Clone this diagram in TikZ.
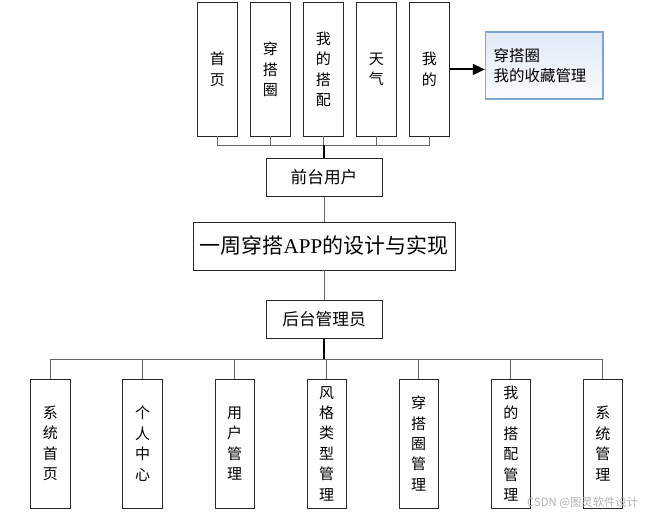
\documentclass[tikz,border=0pt]{standalone}
\usepackage{fontspec}
\setmainfont{Noto Sans CJK SC}
\newfontfamily\latinserif{Liberation Serif}
\usepackage{tikz}
\usetikzlibrary{positioning,arrows.meta}
\definecolor{favline}{RGB}{126,166,211}
\definecolor{favtop}{RGB}{224,233,246}
\definecolor{favbot}{RGB}{250,252,255}
\tikzset{
  box/.style={draw=black!85,line width=0.65pt,inner sep=0pt,align=center},
  col/.style={box,minimum width=29.5pt,font=\fontsize{11.25}{15.3}\selectfont},
  topcol/.style={col,minimum height=99.75pt},
  botcol/.style={col,minimum height=96.75pt},
  role/.style={box,minimum width=87pt,minimum height=28pt,font=\fontsize{12.5}{15}\selectfont},
  bus/.style={draw=black!60,line width=0.75pt},
  trunk/.style={draw=black,line width=1.6pt},
}

\begin{document}
\begin{tikzpicture}
  \useasboundingbox (0,0) rectangle (487.5pt,-387.75pt);
  \node(main)[box,minimum width=196.5pt,minimum height=36pt,font=\fontsize{15.75}{18}\selectfont] at (243pt,-184.5pt) {一周穿搭{\latinserif APP}的设计与实现};
  \node(front)[role,above=18.75pt of main] {前台用户};
  \node(back)[role,below=22.5pt of main] {后台管理员};
  % front end
  \node(t3)[topcol,above=16.5pt of front,xshift=-0.4pt] {我\\的\\搭\\配};
  \node(t2)[topcol,left=9.6pt of t3] {穿\\搭\\圈};
  \node(t1)[topcol,left=9.6pt of t2] {首\\页};
  \node(t4)[topcol,right=9.6pt of t3] {天\\气};
  \node(t5)[topcol,right=9.6pt of t4] {我\\的};
  \node(fav)[right=26.5pt of t5,yshift=3pt,draw=favline,line width=1.1pt,top color=favtop,bottom color=favbot,
    minimum height=50.25pt,text width=76pt,inner xsep=6pt,inner ysep=0pt,align=left,
    font=\fontsize{11.6}{15}\selectfont] {穿搭圈\\我的收藏管理};
  % back end
  \node(b4)[botcol,below=30pt of back,xshift=2pt] {风\\格\\类\\型\\管\\理};
  \node(b3)[botcol,left=38.9pt of b4] {用\\户\\管\\理};
  \node(b2)[botcol,left=38.9pt of b3] {个\\人\\中\\心};
  \node(b1)[botcol,left=38.9pt of b2] {系\\统\\首\\页};
  \node(b5)[botcol,right=38.9pt of b4] {穿\\搭\\圈\\管\\理};
  \node(b6)[botcol,right=38.9pt of b5] {我\\的\\搭\\配\\管\\理};
  \node(b7)[botcol,right=38.9pt of b6] {系\\统\\管\\理};
  \node(wm)[text=black!30,font=\fontsize{8.5}{10}\selectfont] at (437pt,-377pt) {CSDN @图灵软件设计};

  \draw[bus] (t1.south) -- ++(0,-6.75pt) -| (t5.south);
  \foreach \n in {t2,t3,t4} \draw[bus] (\n.south) -- ++(0,-6.75pt);
  \draw[trunk] (front.north) -- ++(0,9.75pt);
  \draw[bus] (front) -- (main);
  \draw[bus] (main) -- (back);
  \draw[trunk] (back.south) -- ++(0,-15.75pt);
  \draw[bus] (b1.north) -- ++(0,14.25pt) -| (b7.north);
  \foreach \n in {b2,b3,b4,b5,b6} \draw[bus] (\n.north) -- ++(0,14.25pt);
  \draw[-{Triangle[length=9pt,width=8pt]},line width=1.5pt] (t5.east) -- (t5.east -| fav.west);
\end{tikzpicture}
\end{document}
